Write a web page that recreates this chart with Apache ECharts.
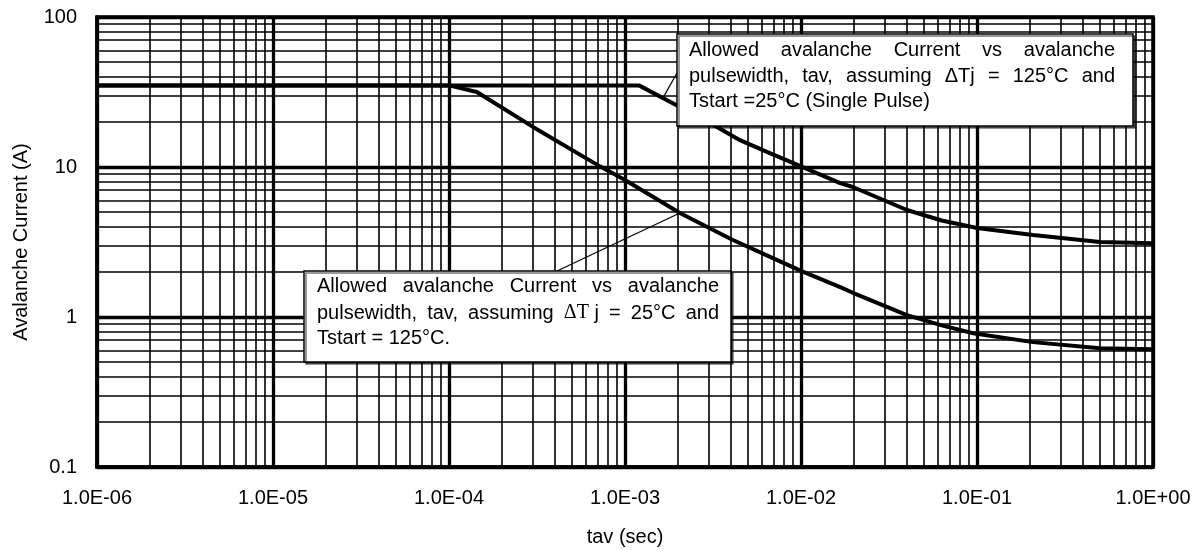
<!DOCTYPE html>
<html><head><meta charset="utf-8">
<script src="https://cdn.jsdelivr.net/npm/echarts@6/dist/echarts.min.js"></script>
<style>html,body{margin:0;padding:0;background:#fff}#c{width:1202px;height:550px}</style>
</head><body><div id="c"></div>
<script>
// ---------- data ----------
const xTickLabels = ['1.0E-06','1.0E-05','1.0E-04','1.0E-03','1.0E-02','1.0E-01','1.0E+00'];
const yTickLabels = ['0.1','1','10','100'];
const xAxisTitle = 'tav (sec)';
const yAxisTitle = 'Avalanche Current (A)';

// Upper curve: ΔTj = 125°C, Tstart = 25°C
const upperTav     = [1e-6, 1.2e-3, 2e-3, 3.33e-3, 4.5e-3, 6.4e-3, 1e-2, 1.67e-2, 1.97e-2, 4e-2, 6.3e-2, 0.1, 0.208, 0.5, 1];
const upperCurrent = [35,   35,     25.5, 18.5,    15.1,   12.6,   10.1, 7.8,     7.36,    5.17, 4.4,  3.92, 3.52, 3.16, 3.1];

// Lower curve: ΔTj = 25°C, Tstart = 125°C
const lowerTav     = [1e-6, 1e-4, 1.44e-4, 3e-4, 7.2e-4, 1e-3, 2.05e-3, 4.1e-3, 7.6e-3, 1e-2, 1.67e-2, 1.97e-2, 4e-2, 6.3e-2, 9.5e-2, 0.208, 0.5, 1];
const lowerCurrent = [35,   35,   31.6,    18.5, 10.1,   8.2,  4.94,    3.26,   2.35,   2.03, 1.58,    1.45,    1.03, 0.88,   0.78,   0.68,  0.62, 0.61];

// annotation texts
const note1Lines = [
  ['Allowed', 'avalanche', 'Current', 'vs', 'avalanche'],
  ['pulsewidth,', 'tav,', 'assuming', 'ΔTj', '=', '125°C', 'and'],
  ['Tstart =25°C (Single Pulse)']
];
const note2Lines = [
  ['Allowed', 'avalanche', 'Current', 'vs', 'avalanche'],
  ['pulsewidth,', 'tav,', 'assuming', '{s|ΔT} j', '=', '25°C', 'and'],
  ['Tstart = 125°C.']
];
const note1Anchor = [1.64e-3, 28.8];
const note2Anchor = [2.05e-3, 4.94];

// ---------- helpers ----------
const FONT = '"Liberation Sans", Arial, Helvetica, sans-serif';
const SERIF = '"Liberation Serif", "Times New Roman", serif';
const FS = 20;
const mctx = document.createElement('canvas').getContext('2d');
function measure(t) {
  let total = 0;
  const re = /\{s\|([^}]*)\}/g;
  let last = 0, m;
  while ((m = re.exec(t)) !== null) {
    mctx.font = FS + 'px ' + FONT; total += mctx.measureText(t.slice(last, m.index)).width;
    mctx.font = FS + 'px ' + SERIF; total += mctx.measureText(m[1]).width;
    last = re.lastIndex;
  }
  mctx.font = FS + 'px ' + FONT; total += mctx.measureText(t.slice(last)).width;
  return total;
}
function textEl(t, x, y) {
  return {
    type: 'text', x: x, y: y, z: 101,
    style: {
      text: t, fill: '#000', fontSize: FS, fontFamily: FONT,
      align: 'left', verticalAlign: 'middle',
      rich: { s: { fontFamily: SERIF, fontSize: FS, fill: '#000' } }
    }
  };
}
function lineEls(words, x0, x1, yc, justify) {
  if (!justify) return [textEl(words.join(' '), x0, yc)];
  const ws = words.map(measure);
  const sum = ws.reduce((a, b) => a + b, 0);
  const gap = (x1 - x0 - sum) / (words.length - 1);
  const out = []; let x = x0;
  words.forEach((wd, i) => { out.push(textEl(wd, x, yc)); x += ws[i] + gap; });
  return out;
}
function box(x, y, w, h) {
  return {
    type: 'rect', z: 100,
    shape: { x: x, y: y, width: w, height: h },
    style: { fill: '#fff', stroke: '#000', lineWidth: 1.5,
             shadowColor: 'rgba(0,0,0,0.55)', shadowOffsetX: 2, shadowOffsetY: 2, shadowBlur: 0 }
  };
}

// minor grid lines (2..9 within each decade), drawn through the axes' own scales
const X_MIN = 1e-6, X_MAX = 1, Y_MIN = 0.1, Y_MAX = 100;
const minorLines = [];
for (let d = -6; d <= -1; d++) for (let m = 2; m <= 9; m++) {
  const v = m * Math.pow(10, d);
  minorLines.push([{ coord: [v, Y_MIN] }, { coord: [v, Y_MAX] }]);
}
for (let d = -1; d <= 1; d++) for (let m = 2; m <= 9; m++) {
  const v = m * Math.pow(10, d);
  minorLines.push([{ coord: [X_MIN, v] }, { coord: [X_MAX, v] }]);
}

const graphics = [];
graphics.push(box(677, 34, 456, 92));
const n1L = [50, 76, 101];
note1Lines.forEach((ws, i) => graphics.push(...lineEls(ws, 689, 1115, n1L[i], i < 2)));
graphics.push(box(304, 271, 427, 91));
const n2L = [286, 313, 338];
note2Lines.forEach((ws, i) => graphics.push(...lineEls(ws, 317, 719, n2L[i], i < 2)));

const chart = echarts.init(document.getElementById('c'), null, { renderer: 'canvas' });
chart.setOption({
  animation: false,
  backgroundColor: '#fff',
  textStyle: { fontFamily: FONT, color: '#000' },
  grid: { left: 97, right: 49, top: 17, bottom: 83, show: true, borderColor: '#000', borderWidth: 3.5,
          backgroundColor: 'transparent', containLabel: false, outerBoundsMode: 'none' },
  xAxis: {
    type: 'log', logBase: 10, min: X_MIN, max: X_MAX,
    name: xAxisTitle, nameLocation: 'middle', nameGap: 60,
    nameTextStyle: { fontSize: 20, color: '#000', fontFamily: FONT },
    axisLine: { show: true, lineStyle: { color: '#000', width: 3.5 } },
    axisTick: { show: false },
    axisLabel: { fontSize: 20, color: '#000', fontFamily: FONT, margin: 21,
                 formatter: v => xTickLabels[Math.round(Math.log10(v)) + 6] },
    splitLine: { show: true, lineStyle: { color: '#000', width: 3.3 } },
    minorTick: { show: false }, minorSplitLine: { show: false }
  },
  yAxis: {
    type: 'log', logBase: 10, min: Y_MIN, max: Y_MAX,
    name: yAxisTitle, nameLocation: 'middle', nameGap: 66, nameRotate: 90,
    nameTextStyle: { fontSize: 20, color: '#000', fontFamily: FONT },
    axisLine: { show: true, lineStyle: { color: '#000', width: 3.5 } },
    axisTick: { show: false },
    axisLabel: { fontSize: 20, color: '#000', fontFamily: FONT, margin: 20,
                 formatter: v => yTickLabels[Math.round(Math.log10(v)) + 1] },
    splitLine: { show: true, lineStyle: { color: '#000', width: 3.3 } }
  },
  series: [
    {
      type: 'line', data: [], z: 1, silent: true,
      markLine: { silent: true, symbol: ['none', 'none'], label: { show: false }, precision: 12,
                  lineStyle: { color: '#000', width: 1.6, type: 'solid' },
                  emphasis: { disabled: true }, animation: false, data: minorLines }
    },
    {
      name: 'upper', type: 'line', z: 5, showSymbol: false, symbol: 'none',
      data: upperTav.map((t, i) => [t, upperCurrent[i]]),
      lineStyle: { color: '#000', width: 4 },
      markLine: { silent: true, symbol: ['none', 'none'], label: { show: false },
                  lineStyle: { color: '#000', width: 1.2, type: 'solid' }, animation: false,
                  data: [[{ coord: note1Anchor }, { x: 677, y: 73 }]] }
    },
    {
      name: 'lower', type: 'line', z: 5, showSymbol: false, symbol: 'none',
      data: lowerTav.map((t, i) => [t, lowerCurrent[i]]),
      lineStyle: { color: '#000', width: 4 },
      markLine: { silent: true, symbol: ['none', 'none'], label: { show: false },
                  lineStyle: { color: '#000', width: 1.2, type: 'solid' }, animation: false,
                  data: [[{ coord: note2Anchor }, { x: 557, y: 271 }]] }
    }
  ],
  graphic: graphics
});
</script>
</body></html>
